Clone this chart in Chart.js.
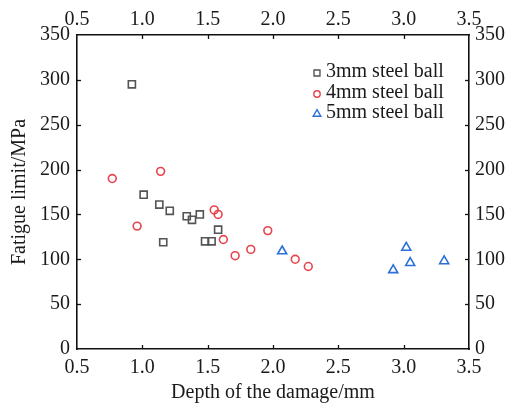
<!DOCTYPE html>
<html>
<head>
<meta charset="utf-8">
<script src="https://cdn.jsdelivr.net/npm/chart.js@4/dist/chart.umd.min.js"></script>
<style>
html,body{margin:0;padding:0;background:#fff;}
#wrap{width:508px;height:404px;position:relative;}
</style>
</head>
<body>
<div id="wrap"><canvas id="c" width="508" height="404"></canvas></div>
<script>
// ---- data ----
const seriesLabels = ['3mm steel ball', '4mm steel ball', '5mm steel ball'];
const depth3mm = [0.92, 1.01, 1.13, 1.16, 1.21, 1.34, 1.38, 1.44, 1.48, 1.53, 1.58];
const limit3mm = [295, 172, 161, 119, 154, 148, 144, 150, 120, 120, 133];
const depth4mm = [0.77, 0.96, 1.14, 1.55, 1.58, 1.62, 1.71, 1.83, 1.96, 2.17, 2.27];
const limit4mm = [190, 137, 198, 155, 150, 122, 104, 111, 132, 100, 92];
const depth5mm = [2.07, 2.92, 3.02, 3.05, 3.31];
const limit5mm = [109, 88, 113, 96, 98];
const xTicks = [0.5, 1.0, 1.5, 2.0, 2.5, 3.0, 3.5];
const yTicks = [0, 50, 100, 150, 200, 250, 300, 350];

const colors = ['#545454', '#e8434b', '#2b6fd9'];
const styles = ['rect', 'circle', 'triangle'];
const radii = [5, 3.9, 5.2];

function pts(xs, ys){ return xs.map((x,i)=>({x:x, y:ys[i]})); }
const FONT = {family:'"Liberation Serif", "Times New Roman", serif', size:20};

const inwardTicks = {
  id:'inwardTicks',
  afterDatasetsDraw(chart){
    const ctx = chart.ctx, a = chart.chartArea;
    ctx.save();
    ctx.strokeStyle = '#111';
    ctx.lineWidth = 1.3;
    const L = 4;
    ['x','x2'].forEach(id=>{
      const s = chart.scales[id];
      s.ticks.forEach(t=>{
        const p = Math.round(s.getPixelForValue(t.value))+0.5;
        if (p <= a.left+1 || p >= a.right-1) return;
        ctx.beginPath();
        if (id==='x'){ ctx.moveTo(p,a.bottom); ctx.lineTo(p,a.bottom-L); }
        else { ctx.moveTo(p,a.top); ctx.lineTo(p,a.top+L); }
        ctx.stroke();
      });
    });
    ['y','y2'].forEach(id=>{
      const s = chart.scales[id];
      s.ticks.forEach(t=>{
        const p = Math.round(s.getPixelForValue(t.value))+0.5;
        if (p <= a.top+1 || p >= a.bottom-1) return;
        ctx.beginPath();
        if (id==='y'){ ctx.moveTo(a.left,p); ctx.lineTo(a.left+L,p); }
        else { ctx.moveTo(a.right,p); ctx.lineTo(a.right-L,p); }
        ctx.stroke();
      });
    });
    ctx.restore();
  }
};

function drawMarker(ctx, style, x, y, r){
  ctx.beginPath();
  if (style==='rect'){
    const s = r*Math.SQRT1_2;
    ctx.rect(x-s, y-s, 2*s, 2*s);
  } else if (style==='circle'){
    ctx.arc(x, y, r, 0, Math.PI*2);
  } else {
    ctx.moveTo(x, y - r);
    ctx.lineTo(x + r*Math.sin(Math.PI/3), y + r*0.5);
    ctx.lineTo(x - r*Math.sin(Math.PI/3), y + r*0.5);
    ctx.closePath();
  }
  ctx.stroke();
}

const innerLegend = {
  id:'innerLegend',
  afterDatasetsDraw(chart){
    const ctx = chart.ctx, a = chart.chartArea;
    ctx.save();
    ctx.font = FONT.size + 'px ' + FONT.family;
    ctx.textBaseline = 'middle';
    ctx.textAlign = 'left';
    const mx = a.right - 152, tx = a.right - 143;
    const rowY = [a.top+37, a.top+58, a.top+78];
    const legR = [4.2, 3.2, 4.4];
    chart.data.datasets.forEach((ds,i)=>{
      ctx.strokeStyle = ds.borderColor;
      ctx.lineWidth = 1.4;
      drawMarker(ctx, ds.pointStyle, mx, rowY[i]+1, legR[i]);
      ctx.fillStyle = '#1a1a1a';
      ctx.fillText(ds.label, tx, rowY[i]);
    });
    ctx.restore();
  }
};

const datasets = [
  pts(depth3mm, limit3mm), pts(depth4mm, limit4mm), pts(depth5mm, limit5mm)
].map((d,i)=>({
  label: seriesLabels[i],
  data: d,
  pointStyle: styles[i],
  pointRadius: radii[i],
  pointHoverRadius: radii[i],
  borderColor: colors[i],
  backgroundColor: 'rgba(0,0,0,0)',
  pointBorderWidth: 1.6,
  showLine: false,
  xAxisID: 'x',
  yAxisID: 'y'
}));

const tickFmt = v => Number(v).toFixed(1);
function xScale(pos, size, pad){
  return {
    type:'linear', position:pos, min:0.5, max:3.5,
    afterBuildTicks: s => { s.ticks = xTicks.map(v=>({value:v})); },
    afterFit: s => { s.height = size; },
    grid:{display:true, drawOnChartArea:false, drawTicks:false},
    border:{display:true, color:'#111', width:1.6},
    ticks:{autoSkip:false, maxRotation:0, padding:pad, color:'#1a1a1a', font:FONT, callback: tickFmt}
  };
}
function yScale(pos, size, pad){
  return {
    type:'linear', position:pos, min:0, max:350,
    afterBuildTicks: s => { s.ticks = yTicks.map(v=>({value:v})); },
    afterFit: s => { s.width = size; },
    grid:{display:true, drawOnChartArea:false, drawTicks:false},
    border:{display:true, color:'#111', width:1.6},
    ticks:{autoSkip:false, padding:pad, color:'#1a1a1a', font:FONT}
  };
}

const sx = xScale('bottom', 55, 7);
sx.title = {display:true, text:'Depth of the damage/mm', color:'#1a1a1a', font:Object.assign({}, FONT, {lineHeight:1}), padding:{top:0,bottom:1}};
const sx2 = xScale('top', 35, 3);
const sy = yScale('left', 77, 7);
sy.title = {display:true, text:'Fatigue limit/MPa', color:'#1a1a1a', font:Object.assign({}, FONT, {lineHeight:1}), padding:{top:10,bottom:0}};
const sy2 = yScale('right', 39, 6);

new Chart(document.getElementById('c'), {
  type:'scatter',
  data:{datasets: datasets},
  options:{
    responsive:false,
    animation:false,
    devicePixelRatio:1,
    layout:{padding:0},
    plugins:{legend:{display:false}, tooltip:{enabled:false}},
    scales:{x:sx, x2:sx2, y:sy, y2:sy2}
  },
  plugins:[inwardTicks, innerLegend]
});
</script>
</body>
</html>
